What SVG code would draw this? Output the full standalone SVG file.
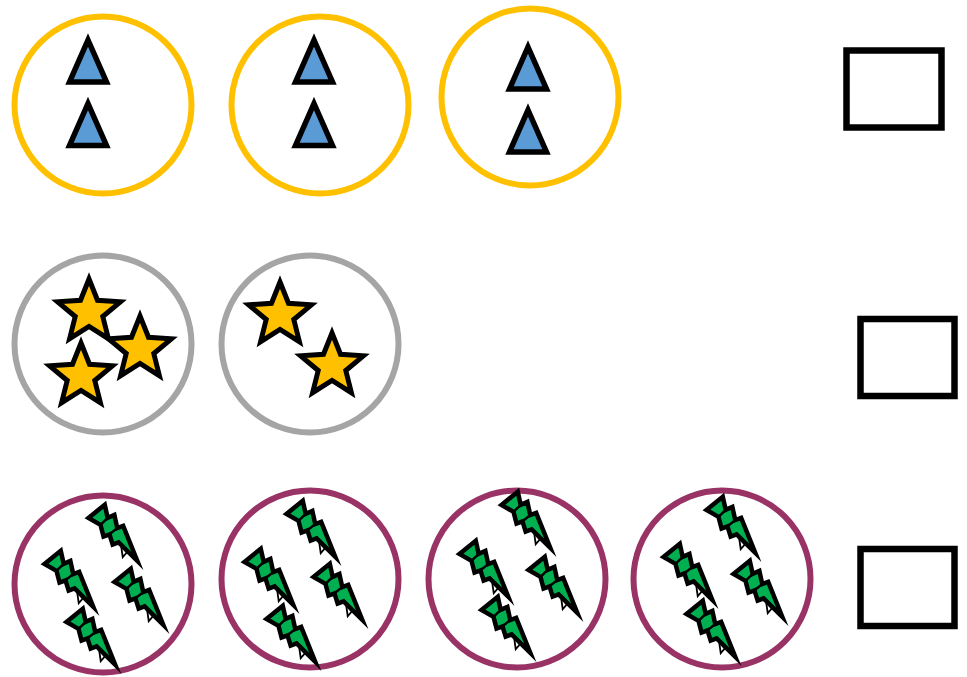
<svg xmlns="http://www.w3.org/2000/svg" xmlns:xlink="http://www.w3.org/1999/xlink" width="967" height="677" viewBox="0 0 967 677">
<style>
.ring-y{fill:#fff;stroke:#FFC000;stroke-width:6}
.ring-g{fill:#fff;stroke:#A5A5A5;stroke-width:6}
.ring-p{fill:#fff;stroke:#993366;stroke-width:6}
.tri{fill:#5B9BD5;stroke:#000;stroke-width:5.5;stroke-linejoin:miter;stroke-miterlimit:10}
.star{fill:#FFC000;stroke:#000;stroke-width:5;stroke-linejoin:miter;stroke-miterlimit:10}
.box{fill:#fff;stroke:#000;stroke-width:6.5}
.bolt{fill:#00B050;stroke:#000;stroke-width:4.5;stroke-linejoin:miter;stroke-miterlimit:10}
.boltline{fill:none;stroke:#000;stroke-width:2.5}
.loop{fill:#fff;stroke:#000;stroke-width:1.8}
</style>
<defs>
<polygon id="tri" class="tri" points="0,0 18.5,42 -18.5,42"/>
<polygon id="star" class="star" points="0,-33 8.5,-11.7 31.4,-10.2 13.8,4.5 19.4,26.7 0,14.5 -19.4,26.7 -13.8,4.5 -31.4,-10.2 -8.5,-11.7"/>
<g id="bolt">
<path class="loop" d="M-3,42 L-9,52 L-3,51 Z"/>
<polygon class="bolt" points="-11,0 10,0 4,12 11,14 5,26 11,28 0,64 -3,38 -9,36 -5,26 -11,24 -6,13"/>
<path class="boltline" d="M-6,13 L4,12 M-5,26 L5,26"/>
</g>
</defs>
<rect width="967" height="677" fill="#fff"/>
<g id="row1">
<g id="tri-set-1"><circle class="ring-y" cx="103" cy="105" r="88.5"/><use xlink:href="#tri" x="88" y="40"/><use xlink:href="#tri" x="88" y="103.5"/></g>
<g id="tri-set-2"><circle class="ring-y" cx="320" cy="105" r="88.5"/><use xlink:href="#tri" x="314" y="40"/><use xlink:href="#tri" x="314" y="103.5"/></g>
<g id="tri-set-3"><circle class="ring-y" cx="530" cy="97" r="88.5"/><use xlink:href="#tri" x="528" y="47"/><use xlink:href="#tri" x="528" y="110"/></g>
<g id="box-1"><rect class="box" x="846.5" y="50.5" width="95" height="77"/></g>
</g>
<g id="row2">
<g id="star-set-1"><circle class="ring-g" cx="103" cy="344" r="88.5"/><use xlink:href="#star" x="89" y="312"/><use xlink:href="#star" x="140" y="349"/><use xlink:href="#star" x="81" y="376"/></g>
<g id="star-set-2"><circle class="ring-g" cx="310" cy="344" r="88.5"/><use xlink:href="#star" x="280" y="315"/><use xlink:href="#star" x="332" y="366"/></g>
<g id="box-2"><rect class="box" x="860.5" y="319" width="94" height="77"/></g>
</g>
<g id="row3">
<g id="bolt-set-1"><circle class="ring-p" cx="103" cy="584" r="88.5"/>
<use xlink:href="#bolt" transform="translate(97,511) rotate(-39)"/>
<use xlink:href="#bolt" transform="translate(53,557) rotate(-39)"/>
<use xlink:href="#bolt" transform="translate(123,575) rotate(-39)"/>
<use xlink:href="#bolt" transform="translate(75,615) rotate(-39)"/>
</g>
<g id="bolt-set-2"><circle class="ring-p" cx="310" cy="579" r="88.5"/>
<use xlink:href="#bolt" transform="translate(295,507) rotate(-39)"/>
<use xlink:href="#bolt" transform="translate(253,555) rotate(-39)"/>
<use xlink:href="#bolt" transform="translate(322,570) rotate(-39)"/>
<use xlink:href="#bolt" transform="translate(275,612) rotate(-39)"/>
</g>
<g id="bolt-set-3"><circle class="ring-p" cx="517" cy="579" r="88.5"/>
<use xlink:href="#bolt" transform="translate(510,498) rotate(-39)"/>
<use xlink:href="#bolt" transform="translate(468,547) rotate(-39)"/>
<use xlink:href="#bolt" transform="translate(537,563) rotate(-39)"/>
<use xlink:href="#bolt" transform="translate(490,603) rotate(-39)"/>
</g>
<g id="bolt-set-4"><circle class="ring-p" cx="722" cy="579" r="88.5"/>
<use xlink:href="#bolt" transform="translate(715,503) rotate(-39)"/>
<use xlink:href="#bolt" transform="translate(672,550) rotate(-39)"/>
<use xlink:href="#bolt" transform="translate(742,567) rotate(-39)"/>
<use xlink:href="#bolt" transform="translate(695,607) rotate(-39)"/>
</g>
<g id="box-3"><rect class="box" x="860.5" y="549" width="94" height="77"/></g>
</g>
<g id="connectors"/>
</svg>
